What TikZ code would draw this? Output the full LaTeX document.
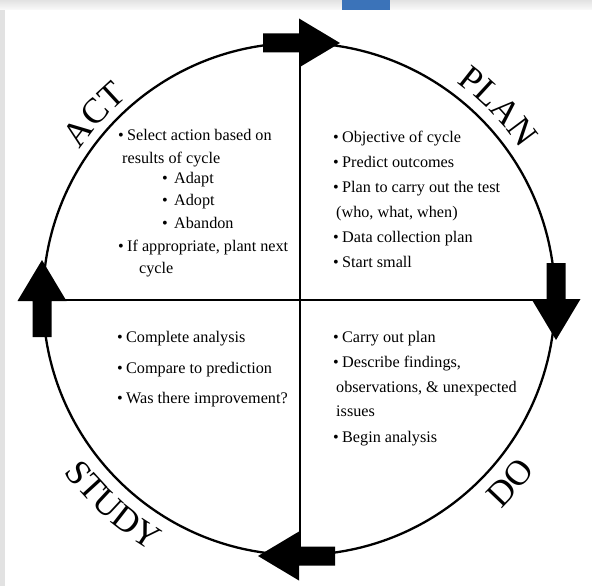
\documentclass[tikz,border=0pt]{standalone}
\usepackage{fontspec}
\setmainfont{Liberation Serif}
\usetikzlibrary{calc,decorations.text}
\definecolor{tabblue}{HTML}{3B73B9}
\definecolor{edgegray}{HTML}{E2E2E2}
\newcommand\bul{\makebox[9pt][l]{\textbullet}}
\newcommand\subbul{\makebox[12pt][l]{\textbullet}}
\newcommand\labfont{\fontsize{35.5}{40}\selectfont}
\begin{document}
\begin{tikzpicture}[x=1pt,y=1pt,
  txt/.style={anchor=base west, inner sep=0pt, font=\fontsize{16.2}{19}\selectfont},
  ring/.style={line width=2.3pt},
  blockarrow/.pic={\fill (-77,-9.5) -- (-41,-9.5) -- (-41,-24.5) -- (0,0) -- (-41,24.5) -- (-41,9.5) -- (-77,9.5) -- cycle;}]
\useasboundingbox (0,0) rectangle (592,-586);
% page background
\shade[top color=edgegray, bottom color=white] (0,0) rectangle (592,-12);
\fill[edgegray] (0,-10) rectangle (5,-586);
\fill[white] (5,-10) rectangle (592,-586);
\fill[tabblue] (342,0) rectangle (390,-10);
% circle and axes
\coordinate (c) at (299,-299);
\coordinate (ntop) at (300,-43);
\coordinate (nbot) at (300,-555);
\coordinate (nleft) at (43,-300);
\coordinate (nright) at (555,-300);
\draw[ring] (c) circle[radius=256pt];
\draw[ring] (ntop) -- (nbot);
\draw[ring] (nleft) -- (nright);
% block arrows
\pic[rotate=0] at (340,-43) {blockarrow};
\pic[rotate=-90] at (556,-340) {blockarrow};
\pic[rotate=180] at (258,-556) {blockarrow};
\pic[rotate=90] at (42,-260) {blockarrow};
% curved labels
\path[decorate, decoration={text along path, text={|\labfont|ACT}, text align=center}]
  ($(c)+(160:265pt)$) arc[start angle=160, end angle=116, radius=265pt];
\path[decorate, decoration={text along path, text={|\labfont|PLAN}, text align=center}]
  ($(c)+(68:268pt)$) arc[start angle=68, end angle=20, radius=268pt];
\path[decorate, decoration={text along path, text={|\labfont|STUDY}, text align=center}]
  ($(c)+(198:292pt)$) arc[start angle=198, end angle=258, radius=292pt];
\path[decorate, decoration={text along path, text={|\labfont|DO}, text align=center}]
  ($(c)+(300:292pt)$) arc[start angle=300, end angle=338, radius=292pt];
% ACT quadrant
\node[txt] (a1) at (118,-140) {\bul Select action based on};
\node[txt] (a2) at (122,-163) {results of cycle};
\node[txt] (a3) at (162,-183) {\subbul Adapt};
\node[txt] (a4) at (162,-205) {\subbul Adopt};
\node[txt] (a5) at (162,-228) {\subbul Abandon};
\node[txt] (a6) at (118,-251) {\bul If appropriate, plant next};
\node[txt] (a7) at (139,-273) {cycle};
% PLAN quadrant
\node[txt] (p1) at (333,-142) {\bul Objective of cycle};
\node[txt] (p2) at (333,-167) {\bul Predict outcomes};
\node[txt] (p3) at (333,-192) {\bul Plan to carry out the test};
\node[txt] (p4) at (336,-217) {(who, what, when)};
\node[txt] (p5) at (333,-242) {\bul Data collection plan};
\node[txt] (p6) at (333,-267) {\bul Start small};
% STUDY quadrant
\node[txt] (s1) at (117,-342) {\bul Complete analysis};
\node[txt] (s2) at (117,-373) {\bul Compare to prediction};
\node[txt] (s3) at (117,-403) {\bul Was there improvement?};
% DO quadrant
\node[txt] (d1) at (333,-342) {\bul Carry out plan};
\node[txt] (d2) at (333,-367) {\bul Describe findings,};
\node[txt] (d3) at (336,-392) {observations, \& unexpected};
\node[txt] (d4) at (336,-416) {issues};
\node[txt] (d5) at (333,-442) {\bul Begin analysis};
\end{tikzpicture}
\end{document}
